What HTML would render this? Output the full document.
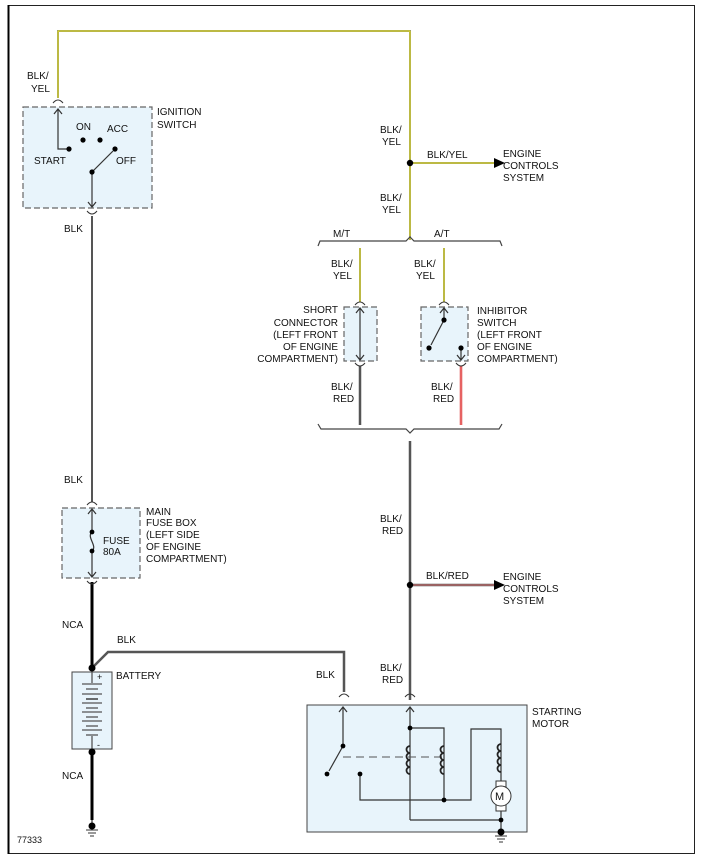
<!DOCTYPE html>
<html><head><meta charset="utf-8"><style>
html,body{margin:0;padding:0;background:#fff}
svg{display:block}
text{font-family:"Liberation Sans",sans-serif;font-size:10px;fill:#111}
</style></head><body>
<svg width="703" height="858" viewBox="0 0 703 858" xmlns="http://www.w3.org/2000/svg">
<rect x="0" y="0" width="703" height="858" fill="#fff"/>
<rect x="8.5" y="5.5" width="686" height="848" fill="none" stroke="#222" stroke-width="1"/>
<line x1="8.5" y1="5" x2="8.5" y2="854" stroke="#000" stroke-width="2"/>

<g fill="#e8f4fb" stroke="#666" stroke-width="1.2" stroke-dasharray="6,3">
<rect x="23" y="107" width="129" height="101"/>
<rect x="62" y="508" width="78" height="70"/>
<rect x="344" y="307" width="33" height="54"/>
<rect x="421" y="307" width="47" height="54"/>
</g>
<rect x="307" y="705" width="220" height="127" fill="#e8f4fb" stroke="#444" stroke-width="1"/>
<rect x="72" y="672" width="40" height="77" fill="#e8f4fb" stroke="#444" stroke-width="1"/>

<g fill="none" stroke-linecap="butt">
<polyline points="58,98 58,31 410,31 410,240" stroke="#888" stroke-width="2"/>
<polyline points="58,98 58,31 410,31 410,240" stroke="#f0ea00" stroke-width="1"/>
<line x1="410" y1="163" x2="496" y2="163" stroke="#888" stroke-width="2"/>
<line x1="410" y1="163" x2="496" y2="163" stroke="#f0ea00" stroke-width="1"/>
<line x1="360" y1="248" x2="360" y2="302" stroke="#888" stroke-width="2"/>
<line x1="360" y1="248" x2="360" y2="302" stroke="#f0ea00" stroke-width="1"/>
<line x1="444" y1="248" x2="444" y2="302" stroke="#888" stroke-width="2"/>
<line x1="444" y1="248" x2="444" y2="302" stroke="#f0ea00" stroke-width="1"/>
<line x1="360" y1="366" x2="360" y2="425" stroke="#555" stroke-width="2.5"/>
<line x1="461" y1="366" x2="461" y2="425" stroke="#d44" stroke-width="2.5"/>
<line x1="461" y1="366" x2="461" y2="425" stroke="#f08080" stroke-width="1"/>
<line x1="410" y1="441" x2="410" y2="700" stroke="#555" stroke-width="2.5"/>
<line x1="410" y1="585" x2="496" y2="585" stroke="#555" stroke-width="2.5"/>
<line x1="410" y1="585" x2="496" y2="585" stroke="#e07070" stroke-width="1"/>
<line x1="92" y1="216" x2="92" y2="502" stroke="#555" stroke-width="2"/>
<polyline points="92,668 108,652 344,652 344,692" stroke="#555" stroke-width="2.5"/>
<line x1="92" y1="582" x2="92" y2="668" stroke="#000" stroke-width="3"/>
<line x1="92" y1="752" x2="92" y2="820" stroke="#000" stroke-width="3"/>
<polyline points="318,246 320,241 406,241 410,237 414,241 500,241 502,246" stroke="#444" stroke-width="1.2"/>
<polyline points="318,424 321,429 406,429 410,433 414,429 499,429 502,424" stroke="#444" stroke-width="1.2"/>
</g>
<polygon points="494,158 505,163 494,168" fill="#000"/>
<polygon points="494,580 505,585 494,590" fill="#000"/>

<g fill="none" stroke="#333" stroke-width="1">
<path d="M53,103 Q58,97 63,103"/>
<path d="M87,211 Q92,217 97,211"/>
<path d="M87,505 Q92,499 97,505"/>
<path d="M87,581 Q92,587 97,581"/>
<path d="M355,305 Q360,299 365,305"/>
<path d="M355,363 Q360,369 365,363"/>
<path d="M439,305 Q444,299 449,305"/>
<path d="M456,363 Q461,369 466,363"/>
<path d="M339,697 Q344,691 349,697"/>
<path d="M405,697 Q410,691 415,697"/>
</g>

<g stroke="#333" stroke-width="1.2" fill="none">
<polyline points="58,110 58,149 69,149"/>
<polyline points="54,114 58,109 62,114"/>
<line x1="92" y1="172" x2="113" y2="151"/>
<line x1="92" y1="172" x2="92" y2="206"/>
<polyline points="88,202 92,207 96,202"/>
<line x1="92" y1="510" x2="92" y2="532"/>
<line x1="92" y1="551" x2="92" y2="576"/>
<polyline points="88,514 92,509 96,514"/>
<polyline points="88,572 92,577 96,572"/>
<path d="M92,532 C86,537 98,546 92,551"/>
<line x1="360" y1="308" x2="360" y2="360"/>
<polyline points="356,313 360,308 364,313"/>
<polyline points="356,355 360,360 364,355"/>
<line x1="444" y1="308" x2="444" y2="320"/>
<polyline points="440,313 444,308 448,313"/>
<line x1="444" y1="320" x2="431" y2="345"/>
<line x1="461" y1="348" x2="461" y2="360"/>
<polyline points="457,355 461,360 465,355"/>
<line x1="343" y1="707" x2="343" y2="746"/>
<polyline points="339,712 343,707 347,712"/>
<line x1="343" y1="746" x2="329" y2="771"/>
<line x1="410" y1="707" x2="410" y2="820"/>
<polyline points="406,712 410,707 414,712"/>
<polyline points="410,728 444,728 444,800 471,800 471,729 501,729 501,786"/>
<polyline points="360,774 360,800 444,800"/>
<polyline points="410,820 501,820 501,806"/>
<line x1="501" y1="820" x2="501" y2="832"/>
<line x1="92" y1="820" x2="92" y2="826"/>
</g>
<line x1="343" y1="757" x2="442" y2="757" stroke="#555" stroke-width="1" stroke-dasharray="8,5"/>
<g fill="none" stroke="#222" stroke-width="1.8">
<path d="M410,746 a3.5,3.5 0 0 0 0,7 a3.5,3.5 0 0 0 0,7 a3.5,3.5 0 0 0 0,7 a3.5,3.5 0 0 0 0,7"/>
<path d="M444,746 a3.5,3.5 0 0 0 0,7 a3.5,3.5 0 0 0 0,7 a3.5,3.5 0 0 0 0,7 a3.5,3.5 0 0 0 0,7"/>
<path d="M501,744 a3.5,3.5 0 0 0 0,7 a3.5,3.5 0 0 0 0,7 a3.5,3.5 0 0 0 0,7 a3.5,3.5 0 0 0 0,7"/>
</g>
<rect x="496" y="781" width="10" height="30" fill="#fff" stroke="#333" stroke-width="1"/>
<circle cx="501" cy="796" r="10" fill="#fff" stroke="#333" stroke-width="1"/>
<text x="495" y="800" style="font-size:11px">M</text>

<g stroke="#555" stroke-width="1.3">
<line x1="92" y1="668" x2="92" y2="683"/>
<line x1="92" y1="736" x2="92" y2="752"/>
<line x1="82" y1="684" x2="102" y2="684"/>
<line x1="86" y1="689" x2="98" y2="689"/>
<line x1="82" y1="694" x2="102" y2="694"/>
<line x1="86" y1="699" x2="98" y2="699" stroke="#222"/>
<line x1="82" y1="703" x2="102" y2="703"/>
<line x1="86" y1="708" x2="98" y2="708"/>
<line x1="82" y1="712" x2="102" y2="712"/>
<line x1="86" y1="717" x2="98" y2="717"/>
<line x1="82" y1="721" x2="102" y2="721"/>
<line x1="86" y1="726" x2="98" y2="726"/>
<line x1="82" y1="730" x2="102" y2="730"/>
<line x1="86" y1="735" x2="98" y2="735"/>
</g>
<text x="97" y="680" style="font-size:9px">+</text>
<text x="97" y="748" style="font-size:9px">-</text>

<g fill="#000">
<circle cx="69" cy="149" r="2.6"/><circle cx="83" cy="140" r="2.6"/><circle cx="100" cy="140" r="2.6"/>
<circle cx="115" cy="149" r="2.6"/><circle cx="92" cy="172" r="2.6"/>
<circle cx="92" cy="532" r="2.4"/><circle cx="92" cy="551" r="2.4"/>
<circle cx="410" cy="163" r="3.2"/><circle cx="410" cy="585" r="3.2"/>
<circle cx="444" cy="320" r="2.6"/><circle cx="429" cy="348" r="2.6"/><circle cx="461" cy="348" r="2.6"/>
<circle cx="92" cy="668" r="3.5"/><circle cx="92" cy="752" r="3.5"/>
<circle cx="343" cy="746" r="2.4"/><circle cx="327" cy="774" r="2.4"/>
<circle cx="410" cy="728" r="2.4"/><circle cx="360" cy="774" r="2.4"/><circle cx="444" cy="800" r="2.4"/>
<circle cx="501" cy="820" r="2.4"/><circle cx="501" cy="832" r="3.5"/><circle cx="92" cy="826" r="3.5"/>
</g>
<g stroke="#333" stroke-width="1">
<line x1="495" y1="836" x2="507" y2="836"/><line x1="497" y1="839" x2="505" y2="839"/><line x1="499" y1="842" x2="503" y2="842"/>
<line x1="86" y1="830" x2="98" y2="830"/><line x1="88" y1="833" x2="96" y2="833"/><line x1="90" y1="836" x2="94" y2="836"/>
</g>

<text x="27" y="79">BLK/</text><text x="31" y="92">YEL</text>
<text x="157" y="115">IGNITION</text><text x="157" y="128">SWITCH</text>
<text x="76" y="130">ON</text><text x="107" y="132">ACC</text>
<text x="34" y="164">START</text><text x="116" y="164">OFF</text>
<text x="64" y="232">BLK</text>
<text x="64" y="483">BLK</text>
<text x="146" y="515">MAIN</text><text x="146" y="526">FUSE BOX</text><text x="146" y="538">(LEFT SIDE</text><text x="146" y="550">OF ENGINE</text><text x="146" y="562">COMPARTMENT)</text>
<text x="103" y="544">FUSE</text><text x="103" y="555">80A</text>
<text x="62" y="628">NCA</text>
<text x="117" y="643">BLK</text>
<text x="116" y="679">BATTERY</text>
<text x="62" y="779">NCA</text>
<text x="17" y="843" style="font-size:9px">77333</text>
<text x="380" y="133">BLK/</text><text x="382" y="145">YEL</text>
<text x="427" y="158">BLK/YEL</text>
<text x="503" y="157">ENGINE</text><text x="503" y="169">CONTROLS</text><text x="503" y="181">SYSTEM</text>
<text x="380" y="201">BLK/</text><text x="382" y="213">YEL</text>
<text x="333" y="237">M/T</text><text x="434" y="237">A/T</text>
<text x="331" y="267">BLK/</text><text x="333" y="279">YEL</text>
<text x="414" y="267">BLK/</text><text x="416" y="279">YEL</text>
<text x="338" y="313" text-anchor="end">SHORT</text><text x="338" y="326" text-anchor="end">CONNECTOR</text><text x="338" y="338" text-anchor="end">(LEFT FRONT</text><text x="338" y="350" text-anchor="end">OF ENGINE</text><text x="338" y="362" text-anchor="end">COMPARTMENT)</text>
<text x="477" y="314">INHIBITOR</text><text x="477" y="326">SWITCH</text><text x="477" y="338">(LEFT FRONT</text><text x="477" y="350">OF ENGINE</text><text x="477" y="362">COMPARTMENT)</text>
<text x="331" y="390">BLK/</text><text x="333" y="402">RED</text>
<text x="431" y="390">BLK/</text><text x="433" y="402">RED</text>
<text x="380" y="522">BLK/</text><text x="382" y="534">RED</text>
<text x="426" y="579">BLK/RED</text>
<text x="503" y="580">ENGINE</text><text x="503" y="592">CONTROLS</text><text x="503" y="604">SYSTEM</text>
<text x="316" y="678">BLK</text>
<text x="380" y="671">BLK/</text><text x="382" y="683">RED</text>
<text x="532" y="715">STARTING</text><text x="532" y="727">MOTOR</text>
</svg>
</body></html>
